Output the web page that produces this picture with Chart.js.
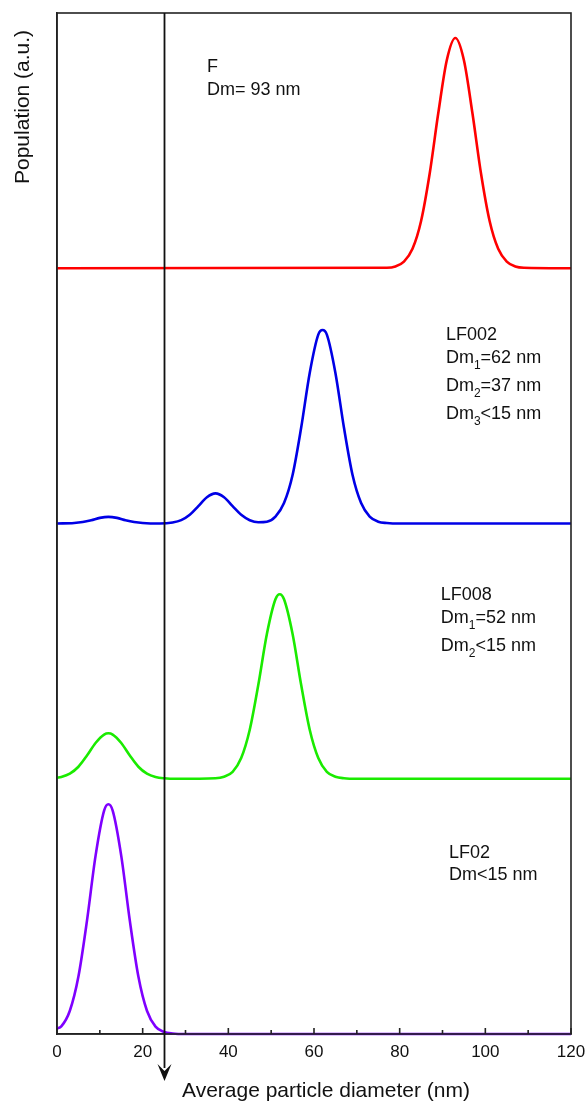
<!DOCTYPE html>
<html>
<head>
<meta charset="utf-8">
<script src="https://cdn.jsdelivr.net/npm/chart.js@4.4.1/dist/chart.umd.min.js"></script>
<style>
  html, body { margin: 0; padding: 0; background: #fff; }
  #wrap { width: 587px; height: 1102px; }
</style>
</head>
<body>
<div id="wrap"><canvas id="psd"></canvas></div>
<script>
// Datos (diámetro en nm, población en u.a. por panel)
const redX = [0, 77, 79, 81, 83, 85, 87, 89, 91, 93, 95, 97, 99, 101, 103, 105, 107, 109, 120];
const redY = [0, 0.002, 0.007, 0.026, 0.076, 0.185, 0.37, 0.606, 0.815, 0.902, 0.815, 0.606, 0.37, 0.185, 0.076, 0.026, 0.007, 0.002, 0];

const blueX = [0, 4, 6, 8, 10, 12, 14, 16, 18, 20, 24, 27, 29, 31, 33, 35, 37, 39, 41, 43, 45, 47, 49, 51, 53, 55, 57, 59, 61, 62, 63, 65, 67, 69, 71, 73, 75, 77, 80, 120];
const blueY = [0, 0.002, 0.006, 0.013, 0.022, 0.026, 0.022, 0.013, 0.006, 0.002, 0, 0.004, 0.013, 0.034, 0.068, 0.103, 0.118, 0.103, 0.068, 0.034, 0.013, 0.005, 0.007, 0.027, 0.08, 0.19, 0.375, 0.59, 0.74, 0.758, 0.74, 0.59, 0.375, 0.19, 0.08, 0.027, 0.007, 0.002, 0, 0];

const greenX = [0, 1, 3, 5, 7, 9, 11, 12, 13, 15, 17, 19, 21, 23, 25, 28, 37, 39, 41, 43, 45, 47, 49, 51, 52, 53, 55, 57, 59, 61, 63, 65, 67, 70, 120];
const greenY = [0.004, 0.007, 0.02, 0.047, 0.091, 0.14, 0.173, 0.178, 0.173, 0.14, 0.091, 0.047, 0.02, 0.007, 0.002, 0, 0.002, 0.008, 0.027, 0.081, 0.192, 0.368, 0.567, 0.703, 0.723, 0.703, 0.567, 0.368, 0.192, 0.081, 0.027, 0.008, 0.002, 0, 0];

const purpleX = [0, 1, 3, 5, 7, 9, 11, 12, 13, 15, 17, 19, 21, 23, 25, 27, 30, 120];
const purpleY = [0.022, 0.03, 0.091, 0.225, 0.444, 0.698, 0.875, 0.9, 0.875, 0.698, 0.444, 0.225, 0.091, 0.029, 0.008, 0.002, 0, 0];

// Desplazamiento vertical de cada muestra (paneles apilados)
const offsets = [3, 2, 1, 0];
const colores = ['#ff0000', '#0000e6', '#1aeb00', '#7f00ff'];
const muestras = ['F', 'LF002', 'LF008', 'LF02'];

const xTicks = [0, 20, 40, 60, 80, 100, 120];
const cutLine = 25;

// Etiquetas de cada panel: [x (nm), y (u.a.), partes del texto]
const etiquetas = [
    [35.0, 3.769, [['F']]],
    [35.0, 3.679, [['Dm= 93 nm']]],
    [90.8, 2.719, [['LF002']]],
    [90.8, 2.629, [['Dm'], ['1', 'sub'], ['=62 nm']]],
    [90.8, 2.519, [['Dm'], ['2', 'sub'], ['=37 nm']]],
    [90.8, 2.409, [['Dm'], ['3', 'sub'], ['<15 nm']]],
    [89.6, 1.700, [['LF008']]],
    [89.6, 1.610, [['Dm'], ['1', 'sub'], ['=52 nm']]],
    [89.6, 1.500, [['Dm'], ['2', 'sub'], ['<15 nm']]],
    [91.5, 0.690, [['LF02']]],
    [91.5, 0.603, [['Dm<15 nm']]]
];

const FONT = '"Liberation Sans", Arial, sans-serif';

function serie(xs, ys, off) {
    return xs.map((x, i) => ({ x: x, y: ys[i] + off }));
}

const seriesX = [redX, blueX, greenX, purpleX];
const seriesY = [redY, blueY, greenY, purpleY];

const datasets = muestras.map((m, i) => ({
    label: m,
    data: serie(seriesX[i], seriesY[i], offsets[i]),
    borderColor: colores[i],
    borderWidth: 2.6,
    pointRadius: 0,
    cubicInterpolationMode: 'monotone',
    clip: false,
    fill: false
}));

// Plugin para marco, marcas internas, flecha, textos y títulos
const extras = {
    id: 'extras',
    afterDraw(chart) {
        const ctx = chart.ctx;
        const a = chart.chartArea;
        const sx = chart.scales.x;
        const sy = chart.scales.y;
        ctx.save();

        // marco
        ctx.strokeStyle = '#222';
        ctx.lineWidth = 1.6;
        ctx.strokeRect(a.left, a.top, a.right - a.left, a.bottom - a.top);

        // marcas hacia dentro
        sx.ticks.forEach(t => {
            const px = sx.getPixelForValue(t.value);
            const len = t.value % 20 === 0 ? 6 : 4;
            ctx.beginPath();
            ctx.moveTo(px, a.bottom);
            ctx.lineTo(px, a.bottom - len);
            ctx.stroke();
        });

        // línea vertical con flecha
        const lx = Math.round(sx.getPixelForValue(cutLine)) + 0.5;
        ctx.strokeStyle = '#111';
        ctx.lineWidth = 1.8;
        ctx.beginPath();
        ctx.moveTo(lx, a.top);
        ctx.lineTo(lx, a.bottom + 34);
        ctx.stroke();
        const tipY = a.bottom + 47;
        ctx.fillStyle = '#111';
        ctx.beginPath();
        ctx.moveTo(lx, tipY);
        ctx.lineTo(lx - 7, tipY - 17);
        ctx.lineTo(lx, tipY - 10);
        ctx.lineTo(lx + 7, tipY - 17);
        ctx.closePath();
        ctx.fill();

        // etiquetas de las muestras
        ctx.fillStyle = '#111';
        ctx.textBaseline = 'alphabetic';
        ctx.textAlign = 'left';
        etiquetas.forEach(([xv, yv, partes]) => {
            let px = sx.getPixelForValue(xv);
            const py = sy.getPixelForValue(yv);
            partes.forEach(([txt, tipo]) => {
                if (tipo === 'sub') {
                    ctx.font = '12px ' + FONT;
                    ctx.fillText(txt, px, py + 6);
                } else {
                    ctx.font = '18px ' + FONT;
                    ctx.fillText(txt, px, py);
                }
                px += ctx.measureText(txt).width;
            });
        });

        // títulos de los ejes
        ctx.font = '21px ' + FONT;
        ctx.fillStyle = '#111';
        ctx.fillText('Average particle diameter (nm)', 182, 1097);
        ctx.translate(28.5, 184);
        ctx.rotate(-Math.PI / 2);
        ctx.fillText('Population (a.u.)', 0, 0);

        ctx.restore();
    }
};

const chart = new Chart(document.getElementById('psd'), {
    type: 'line',
    data: { datasets: datasets },
    options: {
        responsive: true,
        maintainAspectRatio: false,
        animation: false,
        events: [],
        layout: { padding: { top: 13, right: 16, left: 0, bottom: 0 } },
        plugins: {
            legend: { display: false },
            tooltip: { enabled: false }
        },
        scales: {
            x: {
                type: 'linear',
                min: 0,
                max: 120,
                afterFit(s) { s.height = 68; },
                afterBuildTicks(s) {
                    s.ticks = [];
                    for (let v = 0; v <= 120; v += 10) s.ticks.push({ value: v });
                },
                grid: { display: false },
                border: { display: true, color: '#222', width: 1.6 },
                ticks: {
                    autoSkip: false,
                    maxRotation: 0,
                    padding: 0,
                    color: '#111',
                    font: { size: 17, family: FONT },
                    callback: v => xTicks.includes(v) ? String(v) : ''
                }
            },
            y: {
                min: 0,
                max: 4,
                afterFit(s) { s.width = 57; },
                grid: { display: false },
                border: { display: true, color: '#222', width: 1.6 },
                ticks: { display: false }
            }
        }
    },
    plugins: [extras]
});
</script>
</body>
</html>
